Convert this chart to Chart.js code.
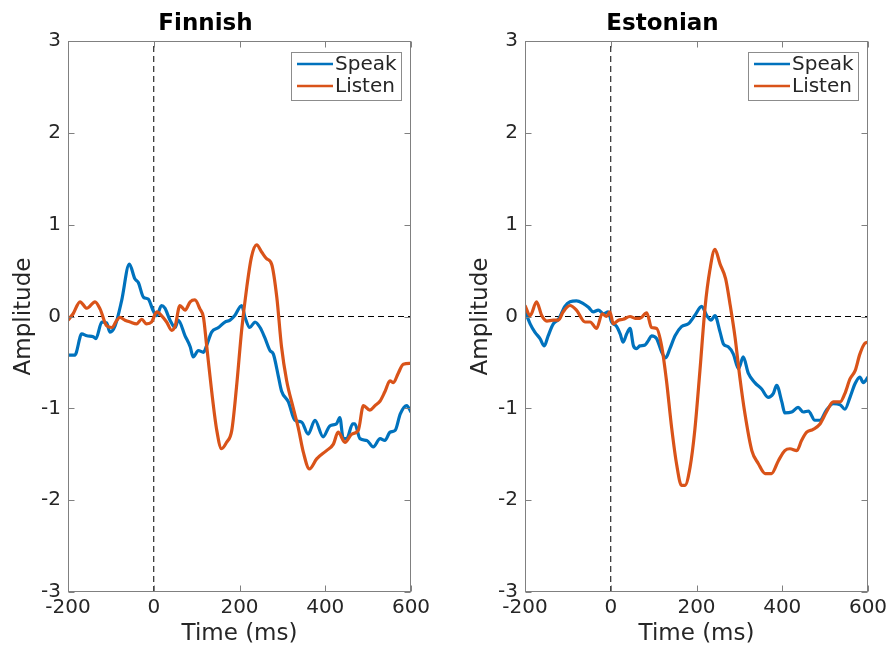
<!DOCTYPE html>
<html>
<head>
<meta charset="utf-8">
<script src="https://cdn.jsdelivr.net/npm/chart.js@4.4.1/dist/chart.umd.min.js"></script>
<style>
  html, body { margin: 0; padding: 0; background: #fff; }
  #wrap { position: relative; width: 892px; height: 648px; }
  canvas { position: absolute; top: 0; }
</style>
</head>
<body>
<div id="wrap">
  <canvas id="fin" width="446" height="648" style="left:0"></canvas>
  <canvas id="est" width="435" height="648" style="left:457px"></canvas>
</div>
<script>
// values (time in ms, amplitude)
const finSpeakT = [-200,-184,-168,-156,-141,-135,-121,-110,-102,-90,-75,-57,-44,-36,-24,-13,-1,7,18,26,38,50,57,73,85,92,104,116,123,135,151,166,178,189,205,213,224,236,248,259,271,279,291,298,314,329,345,360,376,395,411,426,434,442,450,464,469,481,497,512,528,539,551,563,575,590,600];
const finSpeakY = [-0.42,-0.42,-0.19,-0.21,-0.22,-0.24,-0.06,-0.07,-0.17,-0.10,0.17,0.57,0.41,0.37,0.21,0.19,0.06,0.01,0.12,0.09,-0.04,-0.12,-0.04,-0.21,-0.33,-0.44,-0.37,-0.39,-0.32,-0.17,-0.12,-0.06,-0.04,0.01,0.12,-0.01,-0.12,-0.06,-0.12,-0.23,-0.37,-0.41,-0.66,-0.81,-0.93,-1.13,-1.15,-1.28,-1.13,-1.31,-1.19,-1.17,-1.10,-1.33,-1.33,-1.17,-1.17,-1.33,-1.35,-1.42,-1.33,-1.35,-1.26,-1.24,-1.06,-0.97,-1.04];

const finListenT = [-200,-188,-172,-156,-137,-125,-110,-98,-86,-79,-67,-55,-40,-28,-17,-5,7,18,30,42,50,61,73,85,96,108,116,123,135,147,158,170,182,193,205,217,228,240,252,263,275,287,298,310,325,337,349,363,380,403,419,430,446,462,477,489,504,516,528,539,551,559,570,582,600];
const finListenY = [-0.04,0.03,0.16,0.09,0.16,0.08,-0.10,-0.12,-0.04,-0.01,-0.04,-0.06,-0.08,-0.03,-0.08,-0.06,0.05,0.01,-0.06,-0.15,-0.10,0.12,0.07,0.16,0.18,0.08,-0.01,-0.30,-0.81,-1.24,-1.44,-1.37,-1.24,-0.77,-0.15,0.32,0.65,0.78,0.70,0.63,0.57,0.21,-0.33,-0.70,-0.99,-1.21,-1.48,-1.66,-1.55,-1.46,-1.39,-1.26,-1.37,-1.28,-1.24,-0.97,-1.02,-0.97,-0.92,-0.82,-0.70,-0.72,-0.62,-0.52,-0.51];

const estSpeakT = [-200,-188,-177,-165,-155,-146,-134,-122,-107,-95,-80,-64,-52,-41,-29,-17,-6,2,14,22,29,37,45,53,60,68,80,88,95,107,119,128,138,150,165,181,196,212,224,234,243,255,263,274,286,298,309,321,336,352,367,379,387,399,406,422,437,449,461,476,488,503,519,535,546,558,570,581,589,600];
const estSpeakY = [0.06,-0.08,-0.17,-0.24,-0.32,-0.21,-0.08,-0.03,0.11,0.16,0.17,0.14,0.10,0.05,0.07,0.03,0.05,-0.06,-0.11,-0.19,-0.28,-0.19,-0.13,-0.32,-0.35,-0.32,-0.31,-0.26,-0.21,-0.24,-0.39,-0.45,-0.35,-0.21,-0.11,-0.08,0.01,0.11,0.01,-0.04,0.01,-0.17,-0.30,-0.33,-0.41,-0.57,-0.44,-0.62,-0.72,-0.79,-0.88,-0.84,-0.75,-0.93,-1.05,-1.04,-0.99,-1.04,-1.03,-1.13,-1.13,-1.02,-0.95,-0.96,-1.01,-0.88,-0.73,-0.66,-0.72,-0.66];

const estListenT = [-200,-188,-173,-161,-149,-134,-122,-111,-95,-80,-60,-48,-33,-20,-10,-2,6,18,29,45,57,68,84,95,107,119,130,142,154,165,173,185,196,208,220,231,243,255,268,278,290,301,313,329,344,360,375,391,406,418,434,445,457,472,488,503,519,535,546,558,570,581,593,600];
const estListenY = [0.12,0.01,0.16,0.01,-0.05,-0.04,-0.04,0.05,0.12,0.07,-0.06,-0.06,-0.13,0.03,0.00,0.05,-0.08,-0.04,-0.03,0.00,-0.02,-0.02,0.04,-0.12,-0.13,-0.33,-0.70,-1.21,-1.62,-1.84,-1.84,-1.64,-1.24,-0.59,0.10,0.50,0.73,0.57,0.41,0.14,-0.23,-0.66,-1.06,-1.46,-1.60,-1.71,-1.71,-1.57,-1.46,-1.44,-1.46,-1.35,-1.26,-1.23,-1.17,-1.04,-0.93,-0.93,-0.84,-0.68,-0.59,-0.41,-0.29,-0.28];

const xTicks = [-200, 0, 200, 400, 600];
const yTicks = [-3, -2, -1, 0, 1, 2, 3];
const seriesNames = ['Speak', 'Listen'];
const blue = '#0072BD';
const orange = '#D95319';
const textColor = '#262626';
const font = '"DejaVu Sans", Verdana, sans-serif';

function pts(T, Y) {
  return T.map((t, i) => ({ x: t, y: Y[i] }));
}

// MATLAB style box with inward ticks
const framePlugin = {
  id: 'frame',
  afterDatasetsDraw(chart) {
    const { ctx, chartArea: a, scales } = chart;
    const l = Math.round(a.left) + 0.5, r = Math.round(a.right) - 0.5;
    const t = Math.round(a.top) + 0.5, b = Math.round(a.bottom) - 0.5;
    ctx.save();
    ctx.strokeStyle = '#808080';
    ctx.lineWidth = 1;
    ctx.strokeRect(l, t, r - l, b - t);
    ctx.beginPath();
    xTicks.forEach(v => {
      const px = Math.round(scales.x.getPixelForValue(v)) + 0.5;
      ctx.moveTo(px, b); ctx.lineTo(px, b - 6);
      ctx.moveTo(px, t); ctx.lineTo(px, t + 6);
    });
    yTicks.forEach(v => {
      const py = Math.round(scales.y.getPixelForValue(v)) + 0.5;
      ctx.moveTo(l, py); ctx.lineTo(l + 6, py);
      ctx.moveTo(r, py); ctx.lineTo(r - 6, py);
    });
    ctx.stroke();
    ctx.restore();
  }
};

const legendPlugin = {
  id: 'boxLegend',
  afterDraw(chart) {
    const { ctx, chartArea: a } = chart;
    const items = chart.data.datasets.filter(d => !d.isRef);
    const w = 110, h = 48;
    const x0 = Math.round(a.right) - 10 - w, y0 = Math.round(a.top) + 11;
    ctx.save();
    ctx.fillStyle = '#fff';
    ctx.fillRect(x0, y0, w, h);
    ctx.strokeStyle = '#8c8c8c';
    ctx.lineWidth = 1;
    ctx.strokeRect(x0 + 0.5, y0 + 0.5, w, h);
    ctx.font = '20px ' + font;
    ctx.textBaseline = 'middle';
    items.forEach((d, i) => {
      const yy = y0 + 12 + i * 22;
      ctx.strokeStyle = d.borderColor;
      ctx.lineWidth = 2.5;
      ctx.beginPath();
      ctx.moveTo(x0 + 6, yy);
      ctx.lineTo(x0 + 42, yy);
      ctx.stroke();
      ctx.fillStyle = textColor;
      ctx.fillText(d.label, x0 + 44, yy + 1);
    });
    ctx.restore();
  }
};

function makeChart(id, title, speak, listen, padRight) {
  const ctx = document.getElementById(id).getContext('2d');
  return new Chart(ctx, {
    type: 'line',
    data: {
      datasets: [
        { label: seriesNames[0], data: speak, borderColor: blue, borderWidth: 3.2, pointRadius: 0, cubicInterpolationMode: 'monotone', order: 1 },
        { label: seriesNames[1], data: listen, borderColor: orange, borderWidth: 3.2, pointRadius: 0, cubicInterpolationMode: 'monotone', order: 0 },
        { isRef: true, data: [{ x: -200, y: 0 }, { x: 600, y: 0 }], borderColor: '#000', borderWidth: 1, borderDash: [6, 4], pointRadius: 0, order: 2 },
        { isRef: true, data: [{ x: 0, y: -3 }, { x: 0, y: 3 }], borderColor: '#000', borderWidth: 1, borderDash: [6, 4], pointRadius: 0, order: 2 }
      ]
    },
    options: {
      responsive: false,
      animation: false,
      layout: { padding: { left: 0, right: padRight, top: 0, bottom: 0 } },
      plugins: {
        legend: { display: false },
        tooltip: { enabled: false },
        title: {
          display: true,
          text: title,
          color: '#000',
          font: { family: font, size: 23, weight: 'bold', lineHeight: 1.2 },
          padding: { top: 10, bottom: 3.4 }
        }
      },
      scales: {
        x: {
          type: 'linear',
          min: -200, max: 600,
          afterFit: s => { s.height = 56; },
          afterBuildTicks: s => { s.ticks = xTicks.map(v => ({ value: v })); },
          grid: { display: false, drawTicks: false },
          border: { display: false },
          ticks: { color: textColor, padding: 4, font: { family: font, size: 20 } },
          title: { display: true, text: 'Time (ms)', color: textColor, font: { family: font, size: 23 }, padding: { top: 0, bottom: 0 } }
        },
        y: {
          min: -3, max: 3,
          afterFit: s => { s.width = 68; },
          afterBuildTicks: s => { s.ticks = yTicks.map(v => ({ value: v })); },
          grid: { display: false, drawTicks: false },
          border: { display: false },
          ticks: { color: textColor, padding: 7, font: { family: font, size: 20 } },
          title: { display: true, text: 'Amplitude', color: textColor, font: { family: font, size: 23 }, padding: { top: 10, bottom: 0 } }
        }
      }
    },
    plugins: [framePlugin, legendPlugin]
  });
}

makeChart('fin', 'Finnish', pts(finSpeakT, finSpeakY), pts(finListenT, finListenY), 35);
makeChart('est', 'Estonian', pts(estSpeakT, estSpeakY), pts(estListenT, estListenY), 24);
</script>
</body>
</html>
